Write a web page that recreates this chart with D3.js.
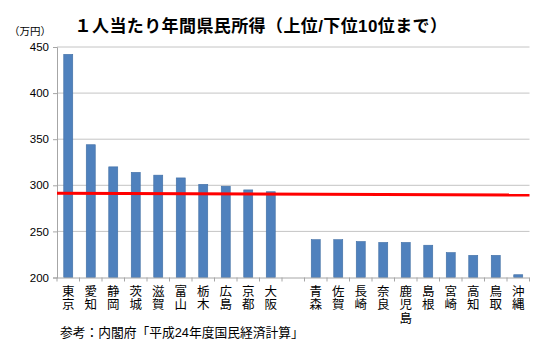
<!DOCTYPE html>
<html>
<head>
<meta charset="utf-8">
<script src="https://cdn.jsdelivr.net/npm/d3@7"></script>
<style>
  html, body { margin: 0; padding: 0; background: #fff; }
  svg { display: block; }
  text { font-family: "Liberation Sans", Arial, "Noto Sans CJK JP", sans-serif; fill: #000; }
</style>
</head>
<body>
<div id="chart"></div>
<script>
// top 10 and bottom 10 prefectures, blank slot in between
const prefectures = ['東京', '愛知', '静岡', '茨城', '滋賀', '富山', '栃木', '広島', '京都', '大阪', '',
  '青森', '佐賀', '長崎', '奈良', '鹿児島', '島根', '宮崎', '高知', '鳥取', '沖縄'];
const income = [442, 344, 320, 314, 311, 308, 301, 299, 295, 293, null,
  241, 241, 239, 238, 238, 235, 227, 224, 224, 203];
const averageLine = [291.5, 289.5]; // red reference line, left end / right end
const yTicks = [200, 250, 300, 350, 400, 450];

const W = 551, H = 362;
const margin = { top: 47, right: 21.5, bottom: 84.5, left: 57 };
const iw = W - margin.left - margin.right;
const ih = H - margin.top - margin.bottom;

const svg = d3.select('#chart').append('svg')
  .attr('width', W)
  .attr('height', H);

const g = svg.append('g').attr('transform', `translate(${margin.left},${margin.top})`);

const slots = prefectures.map((p, i) => i);
const x = d3.scaleBand().domain(slots).range([0, iw]).paddingInner(0.6).paddingOuter(0.3);
const xEdge = d3.scaleLinear().domain([0, prefectures.length]).range([0, iw]);
const y = d3.scaleLinear().domain([200, 450]).range([ih, 0]);

// gridlines
g.append('g')
  .selectAll('line')
  .data(yTicks.slice(1))
  .join('line')
  .attr('x1', 0).attr('x2', iw)
  .attr('y1', d => y(d)).attr('y2', d => y(d))
  .attr('stroke', '#c4c4c4')
  .attr('stroke-width', 1);

// y axis
g.append('g')
  .call(d3.axisLeft(y).tickValues(yTicks).tickSize(4).tickPadding(4))
  .call(s => s.select('.domain').attr('stroke', '#a6a6a6'))
  .call(s => s.selectAll('.tick line').attr('stroke', '#a6a6a6'))
  .call(s => s.selectAll('.tick text')
    .attr('font-size', 11.5)
    .attr('font-family', '"Liberation Sans", Arial, sans-serif')
    .attr('fill', '#000'));

// bars
g.append('g')
  .selectAll('rect')
  .data(slots.filter(i => income[i] != null))
  .join('rect')
  .attr('x', i => x(i))
  .attr('y', i => y(income[i]))
  .attr('width', x.bandwidth())
  .attr('height', i => y(200) - y(income[i]))
  .attr('fill', '#4f81bd')
  .attr('stroke', '#3e6da4')
  .attr('stroke-width', 0.6);

// x axis line + ticks at slot boundaries
g.append('line')
  .attr('x1', 0).attr('x2', iw)
  .attr('y1', ih + 0.5).attr('y2', ih + 0.5)
  .attr('stroke', '#a6a6a6');
g.append('g')
  .selectAll('line')
  .data(d3.range(prefectures.length + 1))
  .join('line')
  .attr('x1', d => xEdge(d)).attr('x2', d => xEdge(d))
  .attr('y1', ih).attr('y2', ih + 4)
  .attr('stroke', '#a6a6a6');

// vertical category labels (one character per line)
const labels = g.append('g')
  .selectAll('text')
  .data(slots)
  .join('text')
  .attr('text-anchor', 'middle')
  .attr('font-size', 12.5)
  .attr('font-family', '"Noto Sans CJK JP", sans-serif');
labels.each(function (i) {
  const chars = Array.from(prefectures[i]);
  d3.select(this).selectAll('tspan')
    .data(chars)
    .join('tspan')
    .attr('x', x(i) + x.bandwidth() / 2)
    .attr('y', (c, k) => ih + 18 + k * 13.5)
    .text(c => c);
});

// red average line
const lineX = d3.scaleLinear().domain([0, averageLine.length - 1]).range([0, iw]);
g.append('path')
  .datum(averageLine)
  .attr('d', d3.line().x((d, k) => lineX(k)).y(d => y(d)))
  .attr('fill', 'none')
  .attr('stroke', '#ff0000')
  .attr('stroke-width', 3);

// title, unit and source
svg.append('text')
  .attr('x', 261)
  .attr('y', 32)
  .attr('text-anchor', 'middle')
  .attr('font-size', 17)
  .attr('font-weight', 'bold')
  .attr('letter-spacing', 0.4)
  .attr('font-family', '"Noto Sans CJK JP", sans-serif')
  .text('１人当たり年間県民所得（上位/下位10位まで）');

svg.append('text')
  .attr('x', 30)
  .attr('y', 35)
  .attr('text-anchor', 'middle')
  .attr('font-size', 10.5)
  .attr('font-family', '"Noto Sans CJK JP", sans-serif')
  .text('（万円）');

svg.append('text')
  .attr('x', 60)
  .attr('y', 337)
  .attr('font-size', 12.75)
  .attr('font-family', '"Noto Sans CJK JP", sans-serif')
  .text('参考：内閣府「平成24年度国民経済計算」');
</script>
</body>
</html>
